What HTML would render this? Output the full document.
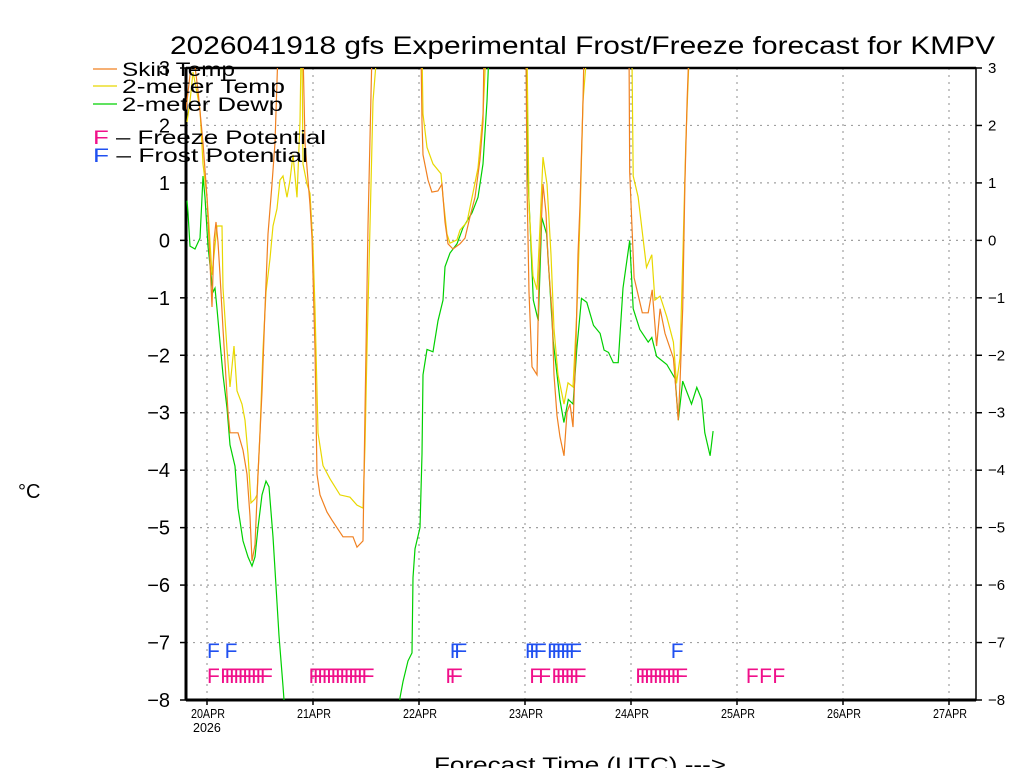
<!DOCTYPE html>
<html><head><meta charset="utf-8"><style>
html,body{margin:0;padding:0;background:#fff;}
svg{display:block;font-family:"Liberation Sans",sans-serif;}
</style></head><body>
<svg id="chart" width="1024" height="768" viewBox="0 0 1024 768" xmlns="http://www.w3.org/2000/svg">
<text x="170" y="54" font-size="25" textLength="825" lengthAdjust="spacingAndGlyphs">2026041918 gfs Experimental Frost/Freeze forecast for KMPV</text>
<g id="grid"></g>
<g id="axes"></g>
<g id="series" clip-path="url(#plotclip)"></g>
<g id="markers"></g>
<defs><clipPath id="plotclip"><rect x="186" y="68" width="790" height="632"/></clipPath></defs>
<g>
<line x1="93" y1="69" x2="117" y2="69" stroke="#f08020" stroke-width="1.2"/>
<text x="122" y="76" font-size="19" textLength="113" lengthAdjust="spacingAndGlyphs">Skin Temp</text>
<line x1="93" y1="86" x2="117" y2="86" stroke="#e8d800" stroke-width="1.2"/>
<text x="122" y="93" font-size="19" textLength="163" lengthAdjust="spacingAndGlyphs">2-meter Temp</text>
<line x1="93" y1="104" x2="117" y2="104" stroke="#00d000" stroke-width="1.2"/>
<text x="122" y="111" font-size="19" textLength="161" lengthAdjust="spacingAndGlyphs">2-meter Dewp</text>
<text x="93" y="144" font-size="19" textLength="233" lengthAdjust="spacingAndGlyphs"><tspan fill="#f0108a">F</tspan> – Freeze Potential</text>
<text x="93" y="162" font-size="19" textLength="215" lengthAdjust="spacingAndGlyphs"><tspan fill="#2050f0">F</tspan> – Frost Potential</text>
</g>
<text x="18" y="498" font-size="20">°C</text>
<text x="434" y="772" font-size="21" textLength="292" lengthAdjust="spacingAndGlyphs">Forecast Time (UTC) ---&gt;</text>
</svg>
<script>
const dayLabels = ["20APR","21APR","22APR","23APR","24APR","25APR","26APR","27APR"];
const yTicks = [3,2,1,0,-1,-2,-3,-4,-5,-6,-7,-8];
const skinHours = [-4.75,-3.85,-3.17,-2.04,-0.91,0,0.45,1.13,1.58,2.04,2.49,2.94,3.62,4.75,5.21,7.02,8.15,9.06,9.73,10.19,10.87,11.55,12.45,13.13,13.81,14.72,15.39,16.07,18.8,21.73,22.19,22.87,23.32,23.77,24.45,24.9,25.58,27.17,28.3,30.79,33.05,33.96,35.32,35.77,36.45,37.36,43,48.45,48.67,48.9,50.03,50.93,52.29,53.2,53.88,54.56,55.69,57.28,58.41,59.54,60.67,61.81,62.49,62.71,68,72.22,72.45,72.9,73.58,74.71,75.17,76.07,76.75,77.2,78.11,78.56,79.24,79.92,80.82,81.5,82.18,82.86,83.54,83.99,84.45,85.13,85.35,95.5,95.7,96.7,98.55,99.9,100.8,101.8,102.6,103.7,105.6,106.7,107.1,107.7,108.2,108.7,109.1];
const skinTemp = [2.27,2.88,3.3,2.61,1.7,0.75,0,-1.16,0,0.32,-0.03,-0.6,-1.54,-2.99,-3.35,-3.35,-3.65,-4.07,-4.8,-5.58,-5.3,-4.07,-2.64,-1.19,0.11,0.98,1.7,3.3,4,3.3,1.7,1.05,0.62,0.04,-1.9,-4.07,-4.43,-4.73,-4.87,-5.16,-5.16,-5.34,-5.23,-2.99,0.25,3.3,4,3.3,2.06,1.49,1.05,0.84,0.86,0.98,0.32,-0.06,-0.15,-0.06,0.04,0.41,0.75,1.41,2.06,3.3,4,3.3,0.98,-0.9,-2.2,-2.34,-0.62,0.98,0.48,-0.32,-1.26,-2.34,-3.05,-3.42,-3.75,-2.99,-2.85,-3.25,-1.77,-0.25,0.62,2.42,3.3,4,1.19,-0.65,-1.26,-1.26,-0.86,-1.84,-1.19,-1.62,-2.05,-3.13,-2.48,-1.19,0.98,2.43,3.3];
const t2mHours = [-4.53,-3.85,-3.17,-2.26,-1.58,-0.91,0,0.45,1.13,2.26,3.4,3.62,4.53,5.21,6.11,6.79,7.92,8.6,9.28,9.96,10.87,11.32,12,12.68,13.36,14.26,14.94,15.85,16.53,17.21,18.11,18.79,19.47,20.38,21.06,21.3,21.5,21.73,22.64,23.32,24,24.45,25.13,26.26,27.85,30.11,32.37,33.96,35.32,35.77,36.22,36.9,37.58,38.49,43,48.67,48.9,49.81,51.17,52.98,53.43,54.34,55.01,56.6,57.28,58.86,60.22,61.35,62.49,63.17,68,72.45,72.9,73.81,74.71,75.39,76.07,76.98,77.88,78.56,79.47,80.82,81.73,82.86,83.77,84.45,85.13,86.03,90,96.2,96.5,97.6,99.5,100.7,101.4,102.6,104.1,105.6,106.3,107.1,107.8,108.4,109.2];
const t2m = [2.06,2.42,2.93,2.57,2.27,1.33,0.75,0.25,-0.6,0.25,0.25,-0.83,-1.9,-2.55,-1.84,-2.62,-2.85,-3.13,-3.72,-4.57,-4.5,-4.43,-3.35,-1.9,-0.9,-0.32,0.25,0.55,1.05,1.12,0.75,1.05,1.49,0.75,2.06,3.3,3.3,1.33,0.98,0.82,-0.11,-1.19,-3.35,-3.92,-4.15,-4.43,-4.47,-4.61,-4.66,-3.57,-1.9,0.25,2.42,3.3,4,3.3,2.2,1.62,1.33,1.16,0.75,0.11,-0.05,0.01,0.18,0.32,0.83,1.26,2.2,3.3,4,3.3,0.62,-0.62,-0.86,0.25,1.45,0.98,-0.25,-1.54,-2.34,-2.85,-2.48,-2.55,-1.19,0.41,2.42,3.3,4,3.3,1.12,0.76,-0.47,-0.25,-1.04,-0.97,-1.33,-1.77,-2.49,-2.05,-0.11,1.7,3.3];
const dewHours = [-4.53,-4.3,-3.85,-2.72,-1.58,-1.13,-0.91,-0.45,0.23,1.13,1.36,1.81,2.26,2.94,3.62,4.53,5.21,6.34,7.02,8.15,9.28,10.19,10.87,11.55,12.45,13.36,14.04,14.94,15.62,16.3,17.21,18.1,43.2,43.69,44.37,45.51,46.41,46.64,47.09,48.22,48.67,48.9,49.81,51.17,52.3,53.43,53.88,55.01,56.6,57.96,59.99,61.35,62.49,63.39,63.84,68,72.22,72.75,73.88,75,75.8,76.9,78.4,79.9,80.8,81.8,82.9,83.7,84.8,86,87.5,89,89.9,90.9,92,93.1,94.2,95.7,96.5,98,99.9,100.7,101.8,104.1,106,106.7,107.7,109.7,110.9,112,112.7,113.9,114.6];
const dew = [0.69,0.48,-0.1,-0.15,0.04,0.75,1.12,0.75,-0.1,-0.76,-0.9,-0.83,-1.19,-1.77,-2.34,-2.92,-3.56,-3.93,-4.66,-5.23,-5.51,-5.67,-5.51,-5,-4.43,-4.19,-4.29,-5.16,-6.02,-6.88,-7.76,-8.7,-8.7,-7.96,-7.68,-7.32,-7.18,-5.87,-5.37,-5,-3.72,-2.34,-1.9,-1.94,-1.4,-1.04,-0.46,-0.22,-0.06,0.22,0.48,0.75,1.33,2.42,3.3,4,3.3,0.98,-1.04,-1.4,0.4,0.11,-1.77,-2.77,-3.17,-2.77,-2.85,-1.91,-1.01,-1.08,-1.48,-1.62,-1.91,-1.95,-2.13,-2.13,-0.83,0,-1.19,-1.55,-1.77,-1.69,-2.02,-2.16,-2.41,-3.13,-2.45,-2.85,-2.56,-2.77,-3.35,-3.75,-3.32];
const freezeHours = [0,3,4,5,6,7,8,9,10,11,12,23,24,25,26,27,28,29,30,31,32,33,34,35,54,55,73,75,78,79,80,81,82,83,97,98,99,100,101,102,103,104,105,106,122,125,128];
const frostHours = [0,4,55,56,72,73,74,77,78,79,80,81,82,105];

const NS="http://www.w3.org/2000/svg";
const PX0=186,PX1=976,PY0=68,PY1=700;
function xs(h){return 207+h*106/24;}
function ys(v){return PY0+(3-v)*(PY1-PY0)/11;}
function mk(tag,attrs,parent){const e=document.createElementNS(NS,tag);for(const k in attrs)e.setAttribute(k,attrs[k]);parent.appendChild(e);return e;}
const gGrid=document.getElementById('grid'),gAxes=document.getElementById('axes'),gSeries=document.getElementById('series'),gMarkers=document.getElementById('markers');

yTicks.forEach(v=>{
  const y=ys(v);
  if(v<3&&v>-8){const g=mk('line',{x1:PX0,x2:PX1,y1:y,y2:y,stroke:'#a0a0a0','stroke-width':1.2,'stroke-dasharray':'2,5'},gGrid);
  
  }
  const t1=mk('line',{x1:PX0-6,x2:PX0,y1:y,y2:y,stroke:'#000','stroke-width':1.5},gAxes);
  
  
  const t2=mk('line',{x1:PX1,x2:PX1+6,y1:y,y2:y,stroke:'#000','stroke-width':1.5},gAxes);
  
  
  const lbl=String(v).replace('-','−');
  const a=mk('text',{x:170,y:y+7,'font-size':20,'text-anchor':'end'},gAxes);a.textContent=lbl;
  
  
  const b=mk('text',{x:988,y:y+5,'font-size':15},gAxes);b.textContent=lbl;
  
  
});
dayLabels.forEach((d,i)=>{
  const x=xs(i*24);
  const g=mk('line',{x1:x,x2:x,y1:PY0,y2:PY1,stroke:'#a0a0a0','stroke-width':1.2,'stroke-dasharray':'2,5'},gGrid);
  
  
  const t=mk('line',{x1:x,x2:x,y1:PY1,y2:PY1+5,stroke:'#000','stroke-width':1.5},gAxes);
  
  
  const l=mk('text',{x:x-16,y:718,'font-size':12.5,textLength:34,lengthAdjust:'spacingAndGlyphs'},gAxes);l.textContent=d;
  
  
});
const yrLabel=mk('text',{x:xs(0)-14,y:732,'font-size':12.5},gAxes);yrLabel.textContent="2026";


const frameRect=mk('rect',{x:PX0,y:PY0,width:PX1-PX0,height:PY1-PY0,fill:'none',stroke:'#000','stroke-width':1.5},gAxes);


const leftAxis=mk('line',{x1:PX0,x2:PX0,y1:PY0,y2:PY1,stroke:'#000','stroke-width':3},gAxes);


const bottomAxis=mk('line',{x1:PX0,x2:PX1,y1:PY1,y2:PY1,stroke:'#000','stroke-width':3},gAxes);


const topAxis=mk('line',{x1:PX0,x2:PX1,y1:PY0,y2:PY0,stroke:'#000','stroke-width':2.5},gAxes);



function drawLine(hs,vs,color,name){
  const d=hs.map((h,i)=>(i?'L':'M')+xs(h).toFixed(1)+','+ys(vs[i]).toFixed(1)).join('');
  const p=mk('path',{d:d,fill:'none',stroke:color,'stroke-width':1.2},gSeries);
  
  
}
drawLine(dewHours,dew,'#00d000','dewpoint-line');
drawLine(t2mHours,t2m,'#e8d800','2m-temp-line');
drawLine(skinHours,skinTemp,'#f08020','skin-temp-line');

freezeHours.forEach(h=>{
  const t=mk('text',{x:xs(h),y:683,'font-size':21,fill:'#f0108a'},gMarkers);t.textContent='F';
  
  
});
frostHours.forEach(h=>{
  const t=mk('text',{x:xs(h),y:658,'font-size':21,fill:'#2050f0'},gMarkers);t.textContent='F';
  
  
});
</script>
</body></html>
